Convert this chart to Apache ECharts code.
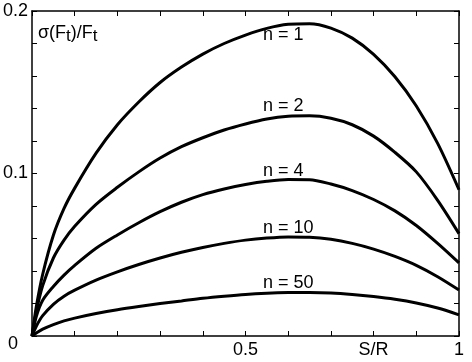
<!DOCTYPE html>
<html>
<head>
<meta charset="utf-8">
<script src="https://cdn.jsdelivr.net/npm/echarts@6/dist/echarts.min.js"></script>
<style>
html,body{margin:0;padding:0;background:#fff;}
#c{width:472px;height:362px;}
</style>
</head>
<body>
<div id="c"></div>
<script>
var sValues = [0, 0.01, 0.025, 0.05, 0.075, 0.1, 0.15, 0.2, 0.25, 0.3, 0.35, 0.4, 0.45, 0.5, 0.55, 0.6, 0.65, 0.7, 0.75, 0.8, 0.85, 0.9, 0.95, 1];
var n1  = [0, 0.018, 0.038, 0.062, 0.0785, 0.091, 0.1125, 0.130, 0.144, 0.156, 0.1655, 0.1735, 0.180, 0.1852, 0.1893, 0.1918, 0.1922, 0.1895, 0.1833, 0.1733, 0.1595, 0.1415, 0.1185, 0.090];
var n2  = [0, 0.015, 0.031, 0.048, 0.059, 0.0675, 0.081, 0.0915, 0.101, 0.1095, 0.1165, 0.122, 0.1268, 0.1305, 0.1335, 0.1352, 0.1355, 0.134, 0.130, 0.123, 0.113, 0.101, 0.0835, 0.063];
var n4  = [0, 0.012, 0.022, 0.0305, 0.0375, 0.0435, 0.054, 0.0622, 0.0697, 0.0765, 0.0823, 0.087, 0.0905, 0.0932, 0.0952, 0.0963, 0.0962, 0.0935, 0.0895, 0.084, 0.077, 0.068, 0.057, 0.045];
var n10 = [0, 0.006, 0.0125, 0.0195, 0.0245, 0.0282, 0.0344, 0.0395, 0.044, 0.048, 0.0515, 0.0545, 0.057, 0.059, 0.0603, 0.061, 0.0608, 0.0595, 0.057, 0.0535, 0.049, 0.0435, 0.0365, 0.0283];
var n50 = [0, 0.0018, 0.0042, 0.007, 0.0093, 0.011, 0.0138, 0.0162, 0.0182, 0.020, 0.0216, 0.0232, 0.0245, 0.0256, 0.0263, 0.0267, 0.0268, 0.0265, 0.0256, 0.0243, 0.0226, 0.0203, 0.0172, 0.013];
var seriesNames = ['n = 1', 'n = 2', 'n = 4', 'n = 10', 'n = 50'];
var seriesValues = [n1, n2, n4, n10, n50];
var labelAnchors = [[0.541, 0.1852], [0.541, 0.1415], [0.541, 0.1015], [0.541, 0.0665], [0.541, 0.0326]];
var xTickLabels = {'0.5': '0.5', '0.8': 'S/R', '1': '1'};
var yTickLabels = {'0.1': '0.1', '0.2': '0.2'};

var FONT = "'Liberation Sans', Arial, sans-serif";
function pairs(vals){ return sValues.map(function(s,i){ return [s, vals[i]]; }); }
function key(v){ return String(Math.round(v*100)/100); }

var chart = echarts.init(document.getElementById('c'), null, {renderer:'canvas'});
function axisCommon(){
  return {
    axisLine:{show:true, onZero:false, lineStyle:{color:'#000', width:1.5}},
    axisTick:{show:true, inside:true, length:5, lineStyle:{color:'#000', width:1}},
    splitLine:{show:false}
  };
}
var option = {
  animation:false,
  backgroundColor:'#fff',
  grid:{left:32, top:11, right:13, bottom:26},
  xAxis:[
    Object.assign({type:'value', min:0, max:1, interval:0.1, position:'bottom',
      axisLabel:{color:'#000', fontSize:18, fontFamily:FONT, margin:5, showMinLabel:true, showMaxLabel:true,
        formatter:function(v){ return xTickLabels[key(v)] || ''; }}}, axisCommon()),
    Object.assign({type:'value', min:0, max:1, interval:0.1, position:'top', axisLabel:{show:false}}, axisCommon())
  ],
  yAxis:[
    Object.assign({type:'value', min:0, max:0.2, interval:0.02, position:'left',
      axisLabel:{color:'#000', fontSize:18, fontFamily:FONT, margin:4, showMaxLabel:true,
        formatter:function(v){ return yTickLabels[key(v)] || ''; }}}, axisCommon()),
    Object.assign({type:'value', min:0, max:0.2, interval:0.02, position:'right', axisLabel:{show:false}}, axisCommon())
  ],
  series: seriesValues.map(function(vals, i){
    return {type:'line', name:seriesNames[i], data:pairs(vals), smooth:0.3, showSymbol:false,
      lineStyle:{color:'#000', width:3}, xAxisIndex:0, yAxisIndex:0, z:3};
  })
};
chart.setOption(option);

var graphics = [];
graphics.push({type:'text', left:8, top:335, z:10,
  style:{text:'0', fontSize:18, fontFamily:FONT, fill:'#000'}});
graphics.push({type:'text', left:38, top:24, z:10,
  style:{text:'σ(F{s|t})/F{s|t}', fontSize:18, fontFamily:FONT, fill:'#000',
    rich:{s:{fontSize:17, fontFamily:FONT, fill:'#000', padding:[6,0,0,0]}}}});
labelAnchors.forEach(function(a, i){
  var p = chart.convertToPixel({gridIndex:0}, a);
  graphics.push({type:'text', x:p[0], y:p[1], z:10,
    style:{text:seriesNames[i], fontSize:18, fontFamily:FONT, fill:'#000', textAlign:'left', textVerticalAlign:'middle'}});
});
chart.setOption({graphic:graphics});
</script>
</body>
</html>
